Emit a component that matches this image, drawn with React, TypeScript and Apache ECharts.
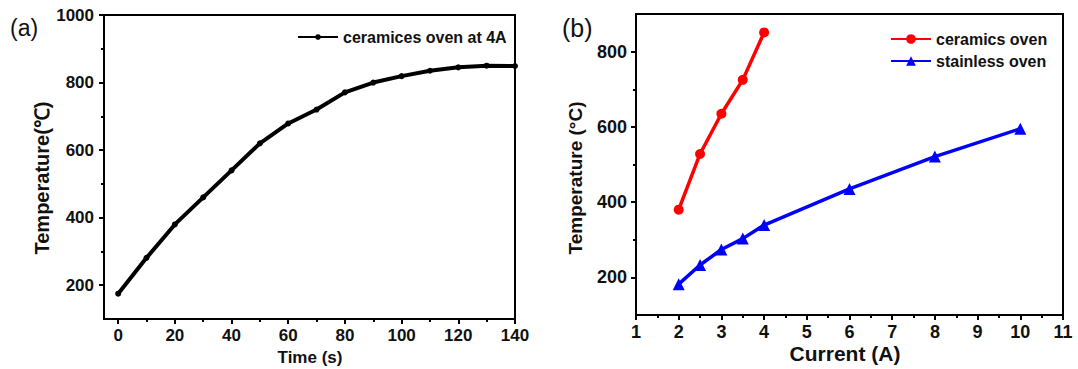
import React, { useEffect, useRef } from "react";
import * as echarts from "echarts";

// Panel (a): temperature vs time, ceramics oven at 4A
const timeS = [0, 10, 20, 30, 40, 50, 60, 70, 80, 90, 100, 110, 120, 130, 140];
const tempA = [175, 281, 380, 460, 540, 620, 679, 720, 771, 800, 819, 835, 845, 850, 849];

// Panel (b): temperature vs current
const currentCeramics = [2, 2.5, 3, 3.5, 4];
const tempCeramics = [380, 528, 635, 725, 851];
const currentStainless = [2, 2.5, 3, 3.5, 4, 6, 8, 10];
const tempStainless = [182, 233, 274, 303, 339, 435, 521, 595];

// Tick values
const xTicksA = [0, 20, 40, 60, 80, 100, 120, 140];
const xMinorA = [10, 30, 50, 70, 90, 110, 130];
const yTicksA = [200, 400, 600, 800, 1000];
const yMinorA = [300, 500, 700, 900];
const yTicksB = [200, 400, 600, 800];
const yMinorB = [300, 500, 700];

const seriesNameA = "ceramices oven at 4A";
const seriesNameB1 = "ceramics oven";
const seriesNameB2 = "stainless oven";

const FONT = "'Liberation Sans', Arial, sans-serif";

export default function App() {
  const ref = useRef<HTMLDivElement>(null);

  useEffect(() => {
    if (!ref.current) return;
    const chart = echarts.init(ref.current, undefined, { renderer: "svg" });

    const axisLine = { show: true, onZero: false, lineStyle: { color: "#000", width: 2 } };
    const hiddenLine = { show: false, onZero: false };
    const fmt = (v: number) => String(v);
    const mainLabel = (size: number, values: number[], margin: number) => ({
      show: true,
      customValues: values,
      formatter: fmt,
      color: "#111",
      fontSize: size,
      fontWeight: "bold" as const,
      fontFamily: FONT,
      margin,
    });
    const majorTick = (values: number[]) => ({
      show: true,
      customValues: values,
      length: 5,
      lineStyle: { color: "#000", width: 2 },
    });
    const minorAxisTick = (values: number[]) => ({
      show: true,
      customValues: values,
      length: 3,
      lineStyle: { color: "#000", width: 2 },
    });

    const option: any = {
      animation: false,
      backgroundColor: "#fff",
      grid: [
        {
          left: 104,
          top: 15,
          width: 411,
          height: 304,
          show: true,
          borderColor: "#000",
          borderWidth: 2,
          backgroundColor: "transparent",
        },
        {
          left: 636,
          top: 14,
          width: 427,
          height: 301,
          show: true,
          borderColor: "#000",
          borderWidth: 2,
          backgroundColor: "transparent",
        },
      ],
      xAxis: [
        {
          type: "value",
          gridIndex: 0,
          position: "bottom",
          min: -5,
          max: 140,
          axisLine,
          axisTick: majorTick(xTicksA),
          axisLabel: mainLabel(17, xTicksA, 8),
          splitLine: { show: false },
        },
        {
          type: "value",
          gridIndex: 0,
          position: "bottom",
          min: -5,
          max: 140,
          axisLine: hiddenLine,
          axisTick: minorAxisTick(xMinorA),
          axisLabel: { show: false },
          splitLine: { show: false },
        },
        {
          type: "value",
          gridIndex: 1,
          position: "bottom",
          min: 1,
          max: 11,
          interval: 1,
          axisLine,
          axisTick: { show: true, length: 5, lineStyle: { color: "#000", width: 2 } },
          minorTick: { show: true, splitNumber: 2, length: 3, lineStyle: { color: "#000", width: 2 } },
          axisLabel: {
            show: true,
            formatter: fmt,
            color: "#111",
            fontSize: 18,
            fontWeight: "bold",
            fontFamily: FONT,
            margin: 8,
          },
          splitLine: { show: false },
        },
      ],
      yAxis: [
        {
          type: "value",
          gridIndex: 0,
          position: "left",
          min: 100,
          max: 1000,
          axisLine,
          axisTick: majorTick(yTicksA),
          axisLabel: mainLabel(17, yTicksA, 10),
          splitLine: { show: false },
        },
        {
          type: "value",
          gridIndex: 0,
          position: "left",
          min: 100,
          max: 1000,
          axisLine: hiddenLine,
          axisTick: minorAxisTick(yMinorA),
          axisLabel: { show: false },
          splitLine: { show: false },
        },
        {
          type: "value",
          gridIndex: 1,
          position: "left",
          min: 100,
          max: 900,
          axisLine,
          axisTick: majorTick(yTicksB),
          axisLabel: mainLabel(18, yTicksB, 9),
          splitLine: { show: false },
        },
        {
          type: "value",
          gridIndex: 1,
          position: "left",
          min: 100,
          max: 900,
          axisLine: hiddenLine,
          axisTick: minorAxisTick(yMinorB),
          axisLabel: { show: false },
          splitLine: { show: false },
        },
      ],
      legend: [
        {
          data: [seriesNameA],
          left: 297,
          top: 29,
          padding: 0,
          itemWidth: 40,
          itemHeight: 7,
          textStyle: { color: "#111", fontSize: 16, fontWeight: "bold", fontFamily: FONT },
        },
        {
          data: [seriesNameB1, seriesNameB2],
          orient: "vertical",
          left: 890,
          top: 31,
          padding: 0,
          itemGap: 6,
          itemWidth: 40,
          itemHeight: 12,
          textStyle: { color: "#111", fontSize: 16, fontWeight: "bold", fontFamily: FONT },
        },
      ],
      series: [
        {
          name: seriesNameA,
          type: "line",
          xAxisIndex: 0,
          yAxisIndex: 0,
          data: timeS.map((t, i) => [t, tempA[i]]),
          symbol: "circle",
          symbolSize: 6,
          color: "#000",
          lineStyle: { color: "#000", width: 4 },
          itemStyle: { color: "#000" },
        },
        {
          name: seriesNameB1,
          type: "line",
          xAxisIndex: 2,
          yAxisIndex: 2,
          data: currentCeramics.map((c, i) => [c, tempCeramics[i]]),
          symbol: "circle",
          symbolSize: 10,
          color: "#ff0000",
          lineStyle: { color: "#ff0000", width: 3.5 },
          itemStyle: { color: "#ff0000" },
        },
        {
          name: seriesNameB2,
          type: "line",
          xAxisIndex: 2,
          yAxisIndex: 2,
          data: currentStainless.map((c, i) => [c, tempStainless[i]]),
          symbol: "triangle",
          symbolSize: 12,
          color: "#0000ff",
          lineStyle: { color: "#0000ff", width: 3.5 },
          itemStyle: { color: "#0000ff" },
        },
      ],
      graphic: [
        {
          type: "text",
          x: 10,
          y: 28,
          style: {
            text: "(a)",
            fill: "#111",
            fontSize: 23,
            fontFamily: FONT,
            verticalAlign: "middle",
            align: "left",
          },
        },
        {
          type: "text",
          x: 562,
          y: 28,
          style: {
            text: "(b)",
            fill: "#111",
            fontSize: 25,
            fontFamily: FONT,
            verticalAlign: "middle",
            align: "left",
          },
        },
        {
          type: "text",
          x: 42,
          y: 178,
          rotation: Math.PI / 2,
          style: {
            text: "Temperature(℃)",
            fill: "#111",
            fontSize: 20,
            fontWeight: "bold",
            fontFamily: FONT,
            verticalAlign: "middle",
            align: "center",
          },
        },
        {
          type: "text",
          x: 575,
          y: 178,
          rotation: Math.PI / 2,
          style: {
            text: "Temperature (°C)",
            fill: "#111",
            fontSize: 19,
            fontWeight: "bold",
            fontFamily: FONT,
            verticalAlign: "middle",
            align: "center",
          },
        },
        {
          type: "text",
          x: 310,
          y: 357,
          style: {
            text: "Time (s)",
            fill: "#111",
            fontSize: 17,
            fontWeight: "bold",
            fontFamily: FONT,
            verticalAlign: "middle",
            align: "center",
          },
        },
        {
          type: "text",
          x: 845,
          y: 353,
          style: {
            text: "Current (A)",
            fill: "#111",
            fontSize: 21,
            fontWeight: "bold",
            fontFamily: FONT,
            verticalAlign: "middle",
            align: "center",
          },
        },
      ],
    };

    chart.setOption(option);
    return () => chart.dispose();
  }, []);

  return (
    <div
      ref={ref}
      style={{ position: "fixed", left: 0, top: 0, width: 1078, height: 369, background: "#fff" }}
    />
  );
}
